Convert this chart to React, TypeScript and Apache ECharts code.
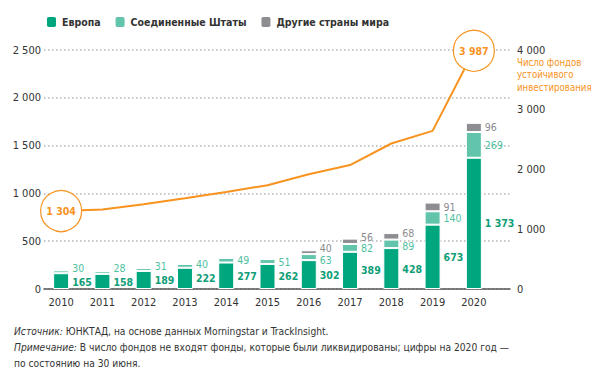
import React, { useEffect, useRef } from "react";
import * as echarts from "echarts";

const years = ["2010", "2011", "2012", "2013", "2014", "2015", "2016", "2017", "2018", "2019", "2020"];
const europe = [165, 158, 189, 222, 277, 262, 302, 389, 428, 673, 1373];
const usa = [30, 28, 31, 40, 49, 51, 63, 82, 89, 140, 269];
const others = [0, 0, 0, 0, 0, 12, 40, 56, 68, 91, 96];
const funds = [1304, 1330, 1420, 1520, 1625, 1737, 1920, 2074, 2435, 2647, 3987];

// small vertical nudges of value labels (px) to avoid overlaps
const europeNudge = [1, 1, 0, 0, 0, 0, 0, 0, 0, 0, 0];
const usaNudge = [-4, -5, -3, -2, 0, 0, 3, 0, 2, 0, 0];
const othersNudge = [0, 0, 0, 0, 0, 0, -4, -4, -3, 0, 0];

const FONT = "'Liberation Sans Narrow', 'DejaVu Sans Condensed', 'Roboto Condensed', sans-serif";
const C_EU = "#00a67e";
const C_US = "#62c5ab";
const C_OT = "#8e8e92";
const C_LINE = "#f7931e";
const TXT = "#333333";

const fmt = (v: number) => String(v).replace(/\B(?=(\d{3})+(?!\d))/g, " ");

export default function App() {
  const ref = useRef<HTMLDivElement>(null);
  useEffect(() => {
    if (!ref.current) return;
    const chart = echarts.init(ref.current, null, { renderer: "svg" });
    const barSeries = (
      name: string,
      vals: number[],
      color: string,
      labelColor: string,
      bold: boolean,
      nudge: number[],
      minLabel: number
    ) => ({
      name,
      type: "bar",
      stack: "total",
      barWidth: 16,
      xAxisIndex: 0,
      yAxisIndex: 0,
      itemStyle: { color, borderColor: "#ffffff", borderWidth: 1 },
      data: vals.map((v, i) => ({
        value: v,
        label: { show: v >= minLabel, offset: [0, nudge[i]] },
      })),
      label: {
        position: "right",
        distance: 3,
        color: labelColor,
        fontFamily: FONT,
        fontSize: 10.5,
        fontWeight: bold ? "bold" : "normal",
        formatter: (p: any) => fmt(p.value),
      },
    });

    const option: any = {
      animation: false,
      textStyle: { fontFamily: FONT },
      legend: {
        left: 40,
        top: 10,
        icon: "roundRect",
        itemWidth: 11,
        itemHeight: 12,
        itemGap: 13,
        data: ["Европа", "Соединенные Штаты", "Другие страны мира"],
        textStyle: { fontFamily: FONT, fontSize: 10.5, fontWeight: "bold", color: TXT },
      },
      grid: [
        { left: 40.5, right: 100.5, top: 50, bottom: 85 },
        { left: 44, right: 85, top: 50, bottom: 85 },
      ],
      xAxis: [
        {
          type: "category",
          gridIndex: 0,
          data: years,
          axisLine: { show: false },
          axisTick: { show: false },
          axisLabel: { color: TXT, fontFamily: FONT, fontSize: 11, margin: 8 },
        },
        {
          type: "value",
          gridIndex: 1,
          min: 0,
          max: 1,
          axisLine: { show: true, lineStyle: { color: "#555555", width: 1.5 } },
          axisTick: { show: false },
          axisLabel: { show: false },
          splitLine: { show: false },
        },
      ],
      yAxis: [
        { type: "value", gridIndex: 0, min: 0, max: 2500, interval: 500, show: false },
        { type: "value", gridIndex: 0, min: 0, max: 4000, interval: 1000, show: false },
        {
          type: "value",
          gridIndex: 1,
          min: 0,
          max: 2500,
          interval: 500,
          axisLine: { show: false },
          axisTick: { show: false },
          axisLabel: {
            color: TXT,
            fontFamily: FONT,
            fontSize: 11,
            margin: 3,
            formatter: (v: number) => fmt(v),
          },
          splitLine: { show: true, lineStyle: { color: "#b5b5b5", width: 1.5, type: [1.5, 2.5] } },
        },
        {
          type: "value",
          gridIndex: 1,
          position: "right",
          min: 0,
          max: 4000,
          interval: 1000,
          axisLine: { show: false },
          axisTick: { show: false },
          splitLine: { show: false },
          axisLabel: {
            color: TXT,
            fontFamily: FONT,
            fontSize: 11,
            margin: 7,
            formatter: (v: number) => fmt(v),
          },
        },
      ],
      series: [
        barSeries("Европа", europe, C_EU, "#0f9e78", true, europeNudge, 1),
        barSeries("Соединенные Штаты", usa, C_US, "#4fbf9f", false, usaNudge, 1),
        barSeries("Другие страны мира", others, C_OT, "#8a8a8e", false, othersNudge, 20),
        {
          name: "Число фондов",
          type: "line",
          xAxisIndex: 0,
          yAxisIndex: 1,
          z: 5,
          lineStyle: { color: C_LINE, width: 2 },
          itemStyle: { color: "#ffffff", borderColor: C_LINE, borderWidth: 1.2 },
          showSymbol: true,
          data: funds.map((v, i) => {
            const edge = i === 0 || i === funds.length - 1;
            return edge
              ? {
                  value: v,
                  symbol: "circle",
                  symbolSize: 41,
                  label: {
                    show: true,
                    position: "inside",
                    color: C_LINE,
                    fontFamily: FONT,
                    fontSize: 10.5,
                    fontWeight: "bold",
                    formatter: (p: any) => fmt(p.value),
                  },
                }
              : { value: v, symbol: "none" };
          }),
        },
      ],
      graphic: [
        {
          type: "text",
          left: 517,
          top: 56,
          style: {
            text: "Число фондов\nустойчивого\nинвестирования",
            fill: C_LINE,
            font: `9.6px ${FONT}`,
            lineHeight: 12.5,
          },
        },
        {
          type: "text",
          left: 14,
          top: 323,
          style: {
            text:
              "{i|Источник:} ЮНКТАД, на основе данных Morningstar и TrackInsight.\n" +
              "{i|Примечание:} В число фондов не входят фонды, которые были ликвидированы; цифры на 2020 год —\n" +
              "по состоянию на 30 июня.",
            fill: TXT,
            font: `10.2px ${FONT}`,
            lineHeight: 16,
            rich: {
              i: { fontStyle: "italic", fontFamily: FONT, fontSize: 10.2, fill: TXT, lineHeight: 16 },
            },
          },
        },
      ],
    };
    chart.setOption(option);
    return () => chart.dispose();
  }, []);
  return (
    <div
      ref={ref}
      style={{ position: "fixed", left: 0, top: 0, width: 595, height: 374, background: "#ffffff" }}
    />
  );
}
